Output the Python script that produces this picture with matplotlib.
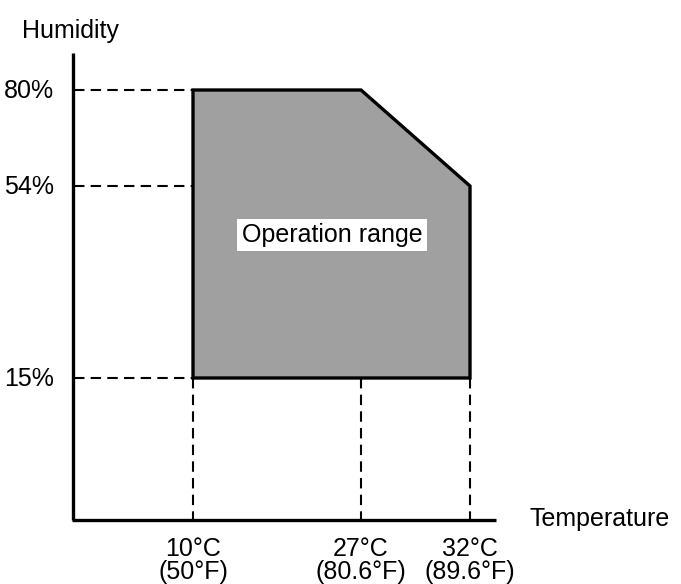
import matplotlib.pyplot as plt
import numpy as np
from matplotlib.patches import Polygon

plt.rcParams['font.family'] = ['Liberation Sans', 'DejaVu Sans']

# data
temps_c = [10, 27, 32]
temps_f = ['50°F', '80.6°F', '89.6°F']
humid = [15, 54, 80]
# operation range outline (temperature, humidity)
range_t = [10, 10, 27, 32, 32]
range_h = [15, 80, 80, 54, 15]

# schematic axes: where each value sits on the drawing (pixels)
x_at = [193, 361, 470]
y_at = [378, 186, 90]
x0, y0 = 73, 520  # axis origin
fs = 18


def tx(v):
    return np.interp(v, temps_c, x_at)


def hy(v):
    return np.interp(v, humid, y_at)


fig = plt.figure(figsize=(6.81, 5.84), dpi=100)
ax = fig.add_axes([0, 0, 1, 1])
ax.set_xlim(0, 681)
ax.set_ylim(584, 0)
ax.axis('off')

# axes lines
ax.plot([x0, x0], [53, y0], color='black', lw=2.4, solid_capstyle='butt')
ax.plot([x0 - 1, 496], [y0, y0], color='black', lw=2.4, solid_capstyle='butt')

# the grey area
pts = np.column_stack([tx(range_t), hy(range_h)])
ax.add_patch(Polygon(pts, closed=True, facecolor='#a0a0a0', edgecolor='black',
                     lw=2.4, joinstyle='miter', zorder=3))

# guide lines
for h in humid:
    ax.plot([x0 + 1, tx(10)], [hy(h), hy(h)], color='black', lw=1.5,
            dashes=(5, 3), zorder=2)
    ax.text(54, hy(h) + 8, f'{h}%', ha='right', va='baseline', fontsize=fs)
for t, f in zip(temps_c, temps_f):
    ax.plot([tx(t), tx(t)], [hy(15), y0], color='black', lw=1.5,
            dashes=(5, 3), zorder=2)
    ax.text(tx(t), 556, f'{t}°C', ha='center', va='baseline', fontsize=fs)
    ax.text(tx(t), 579, f'({f})', ha='center', va='baseline', fontsize=fs)

ax.text(22, 38, 'Humidity', ha='left', va='baseline', fontsize=fs)
ax.text(530, 526, 'Temperature', ha='left', va='baseline', fontsize=fs)
ax.text(332, 235, 'Operation range', ha='center', va='center', fontsize=fs,
        zorder=4, bbox=dict(facecolor='white', edgecolor='none', pad=3))

fig.savefig('out.png', dpi=100)
